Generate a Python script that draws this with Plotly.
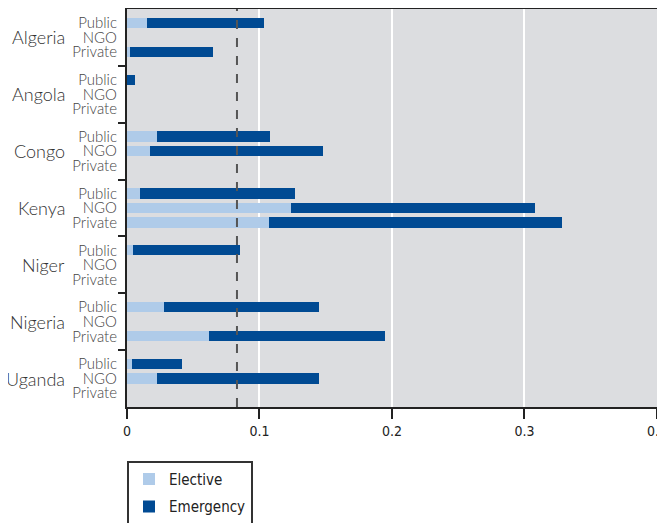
import plotly.graph_objects as go

countries = ["Algeria", "Angola", "Congo", "Kenya", "Niger", "Nigeria", "Uganda"]
sectors = ["Public", "NGO", "Private"]

# values per country, per sector (Public, NGO, Private)
elective = [
    [0.015, 0.0, 0.002],
    [0.0, 0.0, 0.0],
    [0.0226, 0.017, 0.0],
    [0.0098, 0.1238, 0.107],
    [0.0045, 0.0, 0.0],
    [0.028, 0.0, 0.062],
    [0.004, 0.0226, 0.0],
]
total = [
    [0.1034, 0.0, 0.065],
    [0.006, 0.0, 0.0],
    [0.108, 0.148, 0.0],
    [0.127, 0.308, 0.328],
    [0.085, 0.0, 0.0],
    [0.145, 0.0, 0.195],
    [0.0415, 0.145, 0.0],
]
reference_line = 0.083
x_ticks = [0, 0.1, 0.2, 0.3, 0.4]
x_tick_labels = ["0", "0.1", "0.2", "0.3", "0.4"]

ROW_STEP = 0.256
ys, el, em, lbl = [], [], [], []
for g, c in enumerate(countries):
    for s, sec in enumerate(sectors):
        ys.append(g + (s - 1) * ROW_STEP)
        el.append(elective[g][s])
        em.append(max(total[g][s] - elective[g][s], 0))
        lbl.append(sec)

LIGHT = "#afcbe9"
DARK = "#004a93"
LABEL_FONT = "Lato, 'Open Sans', sans-serif"
NUM_FONT = "'Liberation Sans Narrow', 'DejaVu Sans Condensed', Roboto, sans-serif"

fig = go.Figure()
fig.add_trace(go.Bar(y=ys, x=el, orientation="h", name="Elective", legendgroup="a",
                     marker=dict(color=LIGHT, line=dict(width=0)), width=0.18))
fig.add_trace(go.Bar(y=ys, x=em, orientation="h", name="Emergency", legendgroup="b",
                     marker=dict(color=DARK, line=dict(width=0)), width=0.18))

fig.add_shape(type="line", x0=reference_line, x1=reference_line, y0=0, y1=1,
              xref="x", yref="paper", line=dict(color="#555555", width=2, dash="dash"))

for g, c in enumerate(countries):
    fig.add_annotation(x=-0.113, xref="paper", y=g, yref="y", text=c, showarrow=False,
                       xanchor="right", yanchor="middle",
                       font=dict(family=LABEL_FONT, size=18, color="#333333", weight=300))

fig.update_layout(
    barmode="stack",
    width=665, height=523,
    margin=dict(l=119, r=16, t=1, b=124, autoexpand=False),
    paper_bgcolor="white",
    plot_bgcolor="#dcdde0",
    showlegend=True,
    legend=dict(x=0, xanchor="left", y=-0.135, yanchor="top",
                bordercolor="#333333", borderwidth=2, bgcolor="white",
                traceorder="grouped", tracegroupgap=5,
                font=dict(family=NUM_FONT, size=15, color="#222222")),
    xaxis=dict(range=[0, 0.40002], tickvals=x_ticks, ticktext=x_tick_labels,
               showgrid=True, gridcolor="white", gridwidth=1.5, automargin=False,
               zeroline=False, showline=True, linecolor="#222222", linewidth=2,
               mirror=True, ticks="outside", ticklen=10, tickwidth=2, tickcolor="#222222",
               ticklabeloverflow="allow",
               tickfont=dict(family=NUM_FONT, size=14, color="#222222")),
    yaxis=dict(range=[6.5, -0.5], tickvals=ys, ticktext=lbl, automargin=False,
               showgrid=False, zeroline=False, showline=True, linecolor="#222222",
               linewidth=2, mirror=True,
               ticks="outside", ticklen=5, tickcolor="rgba(0,0,0,0)",
               tickfont=dict(family=LABEL_FONT, size=15, color="#444444", weight=300),
               minor=dict(tickvals=[g + 0.5 for g in range(len(countries) - 1)],
                          ticks="outside", ticklen=7, tickwidth=2, tickcolor="#222222",
                          showgrid=False)),
)

fig.write_html("out.html")
